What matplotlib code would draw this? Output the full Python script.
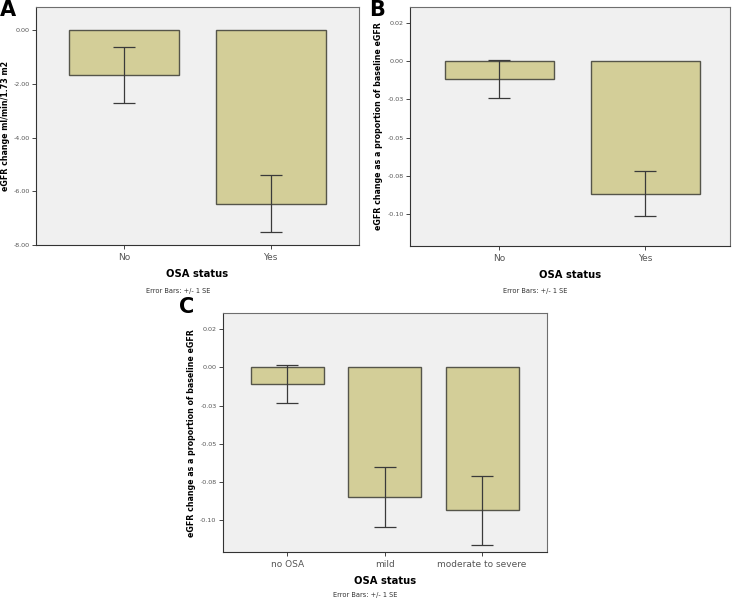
import matplotlib
matplotlib.use("Agg")
import matplotlib.pyplot as plt

# 数据
cats_ab = ["No", "Yes"]
a_means = [-1.68, -6.47]
a_se = [1.05, 1.06]

b_means = [-0.0114, -0.0868]
b_se = [0.0124, 0.0147]

cats_c = ["no OSA", "mild", "moderate to severe"]
c_means = [-0.0107, -0.0847, -0.0936]
c_se = [0.0124, 0.0198, 0.0226]

a_ticks = [0, -2, -4, -6, -8]
a_ticklabels = ["0.00", "-2.00", "-4.00", "-6.00", "-8.00"]
p_ticks = [0.025, 0, -0.025, -0.05, -0.075, -0.1]
p_ticklabels = ["0.02", "0.00", "-0.03", "-0.05", "-0.08", "-0.10"]

bar_color = '#D3CE98'
edge_color = '#55554a'
bg_color = '#F0F0F0'
frame_color = '#6e6e6e'
tick_color = '#444444'

fig = plt.figure(figsize=(7.37, 6.01), dpi=100)


def draw_panel(rect, cats, means, se, yticks, yticklabels, ylim, xlim, ylabel, letter, letter_xy, lpad):
    ax = fig.add_axes(rect)
    ax.set_facecolor(bg_color)
    x = list(range(len(cats)))
    ax.bar(x, means, width=0.75, color=bar_color, edgecolor=edge_color, linewidth=1.0, zorder=2)
    ax.errorbar(x, means, yerr=se, fmt='none', ecolor='#3a3a3a', elinewidth=0.9,
                capsize=7.7, capthick=0.9, zorder=3)
    ax.set_xlim(*xlim)
    ax.set_ylim(*ylim)
    ax.set_xticks(x)
    ax.set_xticklabels(cats, fontsize=6.5, color='#555555')
    ax.set_yticks(yticks)
    ax.set_yticklabels(yticklabels, fontsize=4.6, color='#555555')
    ax.tick_params(axis='both', direction='out', length=3, width=0.7, color=tick_color, pad=1.5)
    ax.tick_params(axis='x', pad=2.5)
    for s in ax.spines.values():
        s.set_color(frame_color)
        s.set_linewidth(0.8)
    ax.spines['left'].set_color('#333333')
    ax.spines['bottom'].set_color('#333333')
    ax.set_ylabel(ylabel, fontsize=5.7, fontweight='bold', labelpad=lpad)
    ax.set_xlabel("OSA status", fontsize=7.2, fontweight='bold', labelpad=5)
    fig.text(letter_xy[0], letter_xy[1], letter, fontsize=15, fontweight='bold',
             ha='left', va='top')
    return ax


axA = draw_panel([0.0488, 0.5923, 0.4383, 0.396], cats_ab, a_means, a_se,
                 a_ticks, a_ticklabels, (-8, 0.86), (-0.603, 1.603),
                 "eGFR change ml/min/1.73 m2", "A", (0.0, 1.0), 2.5)
axB = draw_panel([0.5567, 0.5907, 0.4338, 0.3982], cats_ab, b_means, b_se,
                 p_ticks, p_ticklabels, (-0.121, 0.0357), (-0.61, 1.58),
                 "eGFR change as a proportion of baseline eGFR", "B", (0.501, 1.0), 3)
axC = draw_panel([0.3022, 0.081, 0.4404, 0.3977], cats_c, c_means, c_se,
                 p_ticks, p_ticklabels, (-0.121, 0.0353), (-0.664, 2.67),
                 "eGFR change as a proportion of baseline eGFR", "C", (0.243, 0.505), 3)

fig.text(178 / 737, 1 - 291 / 601, "Error Bars: +/- 1 SE", fontsize=4.8, color='#333333', ha='center', va='center')
fig.text(535 / 737, 1 - 291 / 601, "Error Bars: +/- 1 SE", fontsize=4.8, color='#333333', ha='center', va='center')
fig.text(365 / 737, 1 - 595 / 601, "Error Bars: +/- 1 SE", fontsize=4.8, color='#333333', ha='center', va='center')

fig.savefig("out.png", dpi=100)
